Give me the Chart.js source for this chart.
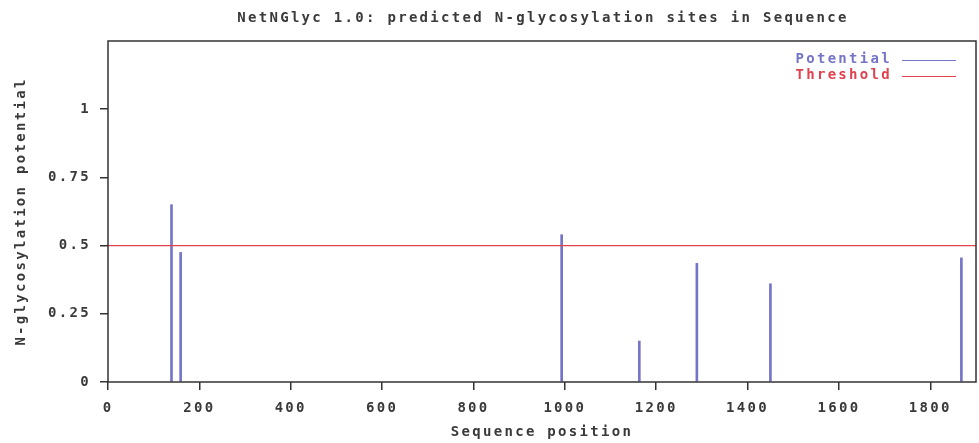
<!DOCTYPE html>
<html>
<head>
<meta charset="utf-8">
<script src="https://cdn.jsdelivr.net/npm/chart.js@4"></script>
<style>
html,body{margin:0;padding:0;background:#fff;}
#wrap{width:979px;height:443px;}
</style>
</head>
<body>
<div id="wrap"><canvas id="chart" width="979" height="443"></canvas></div>
<script>
// site positions and predicted potentials
const positions = [139, 159, 993, 1163, 1289, 1450, 1868];
const potential = [0.65, 0.475, 0.54, 0.15, 0.435, 0.36, 0.455];
const threshold = 0.5;
const seqLength = 1900;
const yTicks = [0, 0.25, 0.5, 0.75, 1];
const xTicks = [0, 200, 400, 600, 800, 1000, 1200, 1400, 1600, 1800];

const FONT = "'DejaVu Sans Mono', 'Liberation Mono', monospace";
const SPACING = '2.3px';
const BLUE = '#7474c8';
const RED = '#e2414f';
const INK = '#3a3a3a';

// wide pixel-font look: letter spacing on the whole context
const spacing = {
  id: 'spacing',
  beforeInit(chart){ chart.ctx.letterSpacing = SPACING; },
  beforeDraw(chart){ chart.ctx.letterSpacing = SPACING; }
};

// frame, title and legend drawn by hand like the NetNGlyc gif
const decor = {
  id: 'decor',
  afterDraw(chart){
    const {ctx, chartArea:a} = chart;
    ctx.save();
    ctx.letterSpacing = SPACING;
    ctx.strokeStyle = '#333';
    ctx.lineWidth = 1.5;
    ctx.strokeRect(a.left, a.top, a.right - a.left, a.bottom - a.top);

    ctx.font = 'bold 14px ' + FONT;
    ctx.fillStyle = INK;
    ctx.textAlign = 'center';
    ctx.textBaseline = 'middle';
    ctx.fillText('NetNGlyc 1.0: predicted N-glycosylation sites in Sequence', (a.left + a.right)/2 + 1, 18);

    const items = [['Potential', BLUE, 59], ['Threshold', RED, 75]];
    ctx.textAlign = 'right';
    items.forEach(([t, c, y]) => {
      ctx.fillStyle = c;
      ctx.fillText(t, 892, y);
      ctx.strokeStyle = c;
      ctx.lineWidth = 1.2;
      ctx.beginPath();
      ctx.moveTo(902, y + 1.5);
      ctx.lineTo(956, y + 1.5);
      ctx.stroke();
    });
    ctx.restore();
  }
};

const tickFont = {family: FONT, size: 14, weight: 'bold'};

new Chart(document.getElementById('chart'), {
  type: 'bar',
  data: {
    datasets: [
      {
        type: 'bar',
        label: 'Potential',
        data: positions.map((p, i) => ({x: p, y: potential[i]})),
        backgroundColor: BLUE,
        barThickness: 2,
        order: 2
      },
      {
        type: 'line',
        label: 'Threshold',
        data: [{x: 0, y: threshold}, {x: seqLength, y: threshold}],
        borderColor: RED,
        borderWidth: 1.3,
        pointRadius: 0,
        order: 1
      }
    ]
  },
  options: {
    responsive: false,
    animation: false,
    layout: {padding: {top: 41, right: 3, left: 0, bottom: 0}},
    plugins: {legend: {display: false}, tooltip: {enabled: false}},
    scales: {
      x: {
        type: 'linear',
        min: 0,
        max: seqLength,
        offset: false,
        afterBuildTicks: s => { s.ticks = xTicks.map(v => ({value: v})); },
        afterFit: s => { s.height = 61; },
        grid: {display: true, offset: false, drawOnChartArea: false, drawTicks: true, tickLength: 8, color: '#333', lineWidth: 1.5},
        border: {display: false},
        ticks: {font: tickFont, color: INK, padding: 10, maxRotation: 0, autoSkip: false, callback: v => String(v)},
        title: {display: true, text: 'Sequence position', font: tickFont, color: INK, padding: {top: 0, bottom: 2}}
      },
      y: {
        min: 0,
        max: 1.25,
        afterBuildTicks: s => { s.ticks = yTicks.map(v => ({value: v})); },
        afterFit: s => { s.width = 108; },
        grid: {display: true, drawOnChartArea: false, drawTicks: true, tickLength: 8, color: '#333', lineWidth: 1.5},
        border: {display: false},
        ticks: {font: tickFont, color: INK, padding: 9, callback: v => String(v)},
        title: {display: true, text: 'N-glycosylation potential', font: tickFont, color: INK, padding: {top: 13, bottom: 0}}
      }
    }
  },
  plugins: [spacing, decor]
});
</script>
</body>
</html>
